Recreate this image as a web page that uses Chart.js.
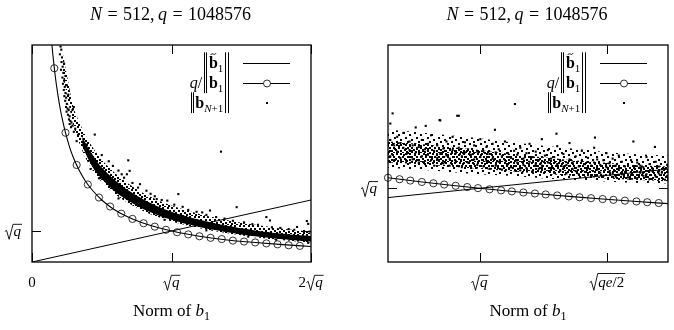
<!DOCTYPE html>
<html>
<head>
<meta charset="utf-8">
<script src="https://cdn.jsdelivr.net/npm/chart.js@4.4.1/dist/chart.umd.min.js"></script>
<style>
  html, body { margin: 0; padding: 0; background: #fff; overflow: hidden; }
  .wrap { display: flex; width: 674px; height: 330px; }
  canvas { display: block; }
</style>
</head>
<body>
<div class="wrap">
  <canvas id="leftChart" width="337" height="330"></canvas>
  <canvas id="rightChart" width="337" height="330"></canvas>
</div>
<script>
// Units: everything is in multiples of sqrt(q)

// ---- left panel ----
const leftIdentX = [0, 2];
const leftIdentY = [0, 2];
const leftCurveX = [0.14, 0.15, 0.16, 0.17, 0.18, 0.20, 0.22, 0.24, 0.27, 0.30, 0.34, 0.38, 0.43, 0.50, 0.58, 0.67, 0.78, 0.90, 1.05, 1.20, 1.40, 1.60, 1.80, 2.00];
const leftCurveY = [7.14, 6.67, 6.25, 5.88, 5.56, 5.00, 4.55, 4.17, 3.70, 3.33, 2.94, 2.63, 2.33, 2.00, 1.72, 1.49, 1.28, 1.11, 0.95, 0.83, 0.71, 0.63, 0.56, 0.50];
const leftMarkX = [0.16, 0.24, 0.32, 0.40, 0.48, 0.56, 0.64, 0.72, 0.80, 0.88, 0.96, 1.04, 1.12, 1.20, 1.28, 1.36, 1.44, 1.52, 1.60, 1.68, 1.76, 1.84, 1.92];
const leftMarkY = [6.25, 4.17, 3.13, 2.50, 2.08, 1.79, 1.56, 1.39, 1.25, 1.14, 1.04, 0.96, 0.89, 0.83, 0.78, 0.74, 0.69, 0.66, 0.63, 0.60, 0.57, 0.54, 0.52];
// ||b_{N+1}|| cloud: solid core and speckled halo around it
const leftCoreX    = [0.36, 0.40, 0.45, 0.50, 0.60, 0.70, 0.80, 0.90, 1.00, 1.10, 1.20, 1.30, 1.40, 1.50, 1.60, 1.70, 1.80, 1.90, 2.00];
const leftCoreLow  = [3.75, 3.35, 2.95, 2.68, 2.25, 1.95, 1.70, 1.51, 1.36, 1.23, 1.13, 1.04, 0.96, 0.89, 0.83, 0.78, 0.73, 0.69, 0.66];
const leftCoreHigh = [4.05, 3.70, 3.35, 3.05, 2.62, 2.28, 2.02, 1.80, 1.62, 1.48, 1.36, 1.26, 1.17, 1.09, 1.02, 0.96, 0.91, 0.87, 0.84];
const leftHaloX    = [0.22, 0.26, 0.30, 0.36, 0.40, 0.45, 0.50, 0.60, 0.70, 0.80, 0.90, 1.00, 1.20, 1.40, 1.60, 1.80, 2.00];
const leftHaloLow  = [6.05, 5.15, 4.35, 3.60, 3.22, 2.85, 2.58, 2.17, 1.88, 1.64, 1.46, 1.31, 1.09, 0.93, 0.80, 0.70, 0.63];
const leftHaloHigh = [6.75, 5.80, 4.95, 4.30, 3.95, 3.60, 3.30, 2.85, 2.50, 2.22, 2.00, 1.82, 1.55, 1.35, 1.20, 1.07, 0.98];
const leftDots = [
  [0.205, 6.95], [0.21, 6.85], [0.20, 6.70], [0.215, 6.60], [0.212, 6.45], [0.22, 6.30], [0.208, 6.20], [0.225, 6.10],
  [0.218, 5.95], [0.23, 5.85], [0.222, 5.75], [0.235, 5.65], [0.228, 5.55], [0.24, 5.45], [0.232, 5.35], [0.245, 5.30],
  [0.238, 5.20], [0.25, 5.10], [0.244, 5.00], [0.255, 4.95], [0.262, 4.90], [0.248, 4.85], [0.258, 4.75], [0.27, 4.70],
  [0.265, 4.60], [0.275, 4.55], [0.283, 4.50], [0.27, 4.45], [0.29, 4.40], [0.28, 4.35], [0.30, 5.00], [0.29, 4.90],
  [0.26, 5.40], [0.24, 6.00], [0.23, 6.40], [0.25, 5.70], [0.30, 4.20], [0.31, 4.30], [0.32, 3.90], [0.33, 4.10],
  [0.45, 4.11], [0.39, 3.79], [0.69, 3.28], [0.70, 2.94], [0.68, 2.83], [0.643, 2.83], [0.774, 2.51], [1.049, 2.19],
  [0.894, 2.03], [0.97, 1.98], [1.467, 1.77], [1.276, 1.66], [1.22, 1.60], [1.68, 1.45], [1.706, 1.34], [1.98, 1.23],
  [1.90, 1.13], [1.355, 3.56], [1.97, 1.32],
  [0.50, 3.45], [0.55, 3.25], [0.58, 3.10], [0.62, 2.95], [0.66, 2.72], [0.72, 2.55], [0.76, 2.40], [0.82, 2.30],
  [0.85, 2.20], [0.88, 2.12], [0.93, 2.00], [1.02, 1.85], [1.08, 1.78], [1.12, 1.68], [1.18, 1.62], [1.25, 1.52],
  [1.32, 1.45], [1.38, 1.40], [1.44, 1.33], [1.52, 1.28], [1.58, 1.22], [1.62, 1.20], [1.72, 1.12], [1.78, 1.10],
  [1.84, 1.06], [1.88, 1.04], [1.95, 1.00], [1.99, 0.98],
  [0.62, 2.05], [0.95, 1.36], [1.25, 1.02], [1.55, 0.82], [1.75, 0.72], [1.98, 0.62], [0.42, 3.00], [0.48, 2.70]
];

// ---- right panel ----
const rightIdentX = [0.881, 1.245];
const rightIdentY = [0.881, 1.245];
const rightCurveX = [0.881, 0.92, 0.96, 1.00, 1.04, 1.08, 1.12, 1.16, 1.20, 1.245];
const rightCurveY = [1.135, 1.087, 1.042, 1.000, 0.962, 0.926, 0.893, 0.862, 0.833, 0.803];
const rightMarkX = [0.881, 0.896, 0.910, 0.925, 0.940, 0.954, 0.969, 0.984, 0.998, 1.013, 1.028, 1.042, 1.057, 1.072, 1.086, 1.101, 1.116, 1.130, 1.145, 1.160, 1.174, 1.189, 1.204, 1.218, 1.233];
const rightMarkY = [1.135, 1.116, 1.099, 1.081, 1.064, 1.048, 1.032, 1.016, 1.002, 0.987, 0.973, 0.960, 0.946, 0.933, 0.921, 0.908, 0.896, 0.885, 0.873, 0.862, 0.852, 0.841, 0.831, 0.821, 0.811];
const rightCoreX    = [0.881, 0.92, 0.96, 1.00, 1.04, 1.08, 1.12, 1.16, 1.20, 1.245];
const rightCoreLow  = [1.33, 1.31, 1.28, 1.25, 1.22, 1.19, 1.16, 1.13, 1.11, 1.09];
const rightCoreHigh = [1.60, 1.57, 1.53, 1.49, 1.44, 1.40, 1.36, 1.33, 1.30, 1.28];
const rightHaloX    = [0.881, 0.92, 0.96, 1.00, 1.04, 1.08, 1.12, 1.16, 1.20, 1.245];
const rightHaloLow  = [1.26, 1.24, 1.21, 1.18, 1.16, 1.13, 1.11, 1.09, 1.07, 1.06];
const rightHaloHigh = [1.75, 1.72, 1.68, 1.64, 1.59, 1.55, 1.51, 1.47, 1.44, 1.42];
const rightDots = [
  [0.884, 1.62], [0.884, 1.41], [0.884, 1.83], [0.889, 1.55], [0.889, 1.36], [0.893, 1.47], [0.893, 1.66], [0.897, 1.39],
  [0.897, 1.58], [0.901, 1.52], [0.901, 1.71], [0.905, 1.44], [0.905, 1.35], [0.909, 1.60], [0.909, 1.49], [0.913, 1.37],
  [0.913, 1.55], [0.917, 1.46], [0.917, 1.78], [0.921, 1.53], [0.921, 1.33], [0.925, 1.41], [0.925, 1.62], [0.929, 1.50],
  [0.929, 1.31], [0.933, 1.57], [0.933, 1.43], [0.937, 1.36], [0.937, 1.68], [0.941, 1.48], [0.941, 1.29], [0.945, 1.55],
  [0.945, 1.39], [0.949, 1.44], [0.949, 1.87], [0.953, 1.32], [0.953, 1.51], [0.957, 1.60], [0.957, 1.42], [0.961, 1.38],
  [0.961, 1.29], [0.965, 1.49], [0.965, 1.66], [0.969, 1.35], [0.969, 1.45], [0.973, 1.52], [0.973, 1.93], [0.977, 1.41],
  [0.977, 1.27], [0.981, 1.46], [0.981, 1.59], [0.985, 1.33], [0.985, 1.50], [0.989, 1.43], [0.989, 1.26], [0.993, 1.55],
  [0.993, 1.37], [0.997, 1.30], [0.997, 1.47], [1.001, 1.40], [1.001, 1.63], [1.005, 1.48], [1.005, 1.28], [1.009, 1.35],
  [1.009, 1.53], [1.013, 1.44], [1.013, 1.25], [1.017, 1.38], [1.017, 1.57], [1.021, 1.29], [1.021, 1.46], [1.025, 1.50],
  [1.025, 1.34], [1.029, 1.41], [1.029, 1.24], [1.033, 1.36], [1.033, 1.60], [1.037, 1.45], [1.037, 1.31], [1.041, 1.27],
  [1.041, 1.39], [1.045, 1.48], [1.046, 2.08], [1.049, 1.33], [1.049, 1.43], [1.053, 1.23], [1.053, 1.52], [1.057, 1.38],
  [1.057, 1.30], [1.061, 1.45], [1.061, 1.26], [1.065, 1.34], [1.065, 1.57], [1.069, 1.22], [1.069, 1.40], [1.073, 1.47],
  [1.073, 1.31], [1.077, 1.36], [1.077, 1.25], [1.081, 1.29], [1.081, 1.63], [1.085, 1.42], [1.085, 1.21], [1.089, 1.33],
  [1.089, 1.49], [1.093, 1.26], [1.093, 1.38], [1.097, 1.40], [1.097, 1.20], [1.101, 1.31], [1.101, 1.54], [1.105, 1.23],
  [1.105, 1.35], [1.109, 1.44], [1.109, 1.28], [1.113, 1.30], [1.113, 1.19], [1.117, 1.37], [1.117, 1.58], [1.121, 1.25],
  [1.121, 1.33], [1.125, 1.41], [1.125, 1.22], [1.129, 1.28], [1.129, 1.18], [1.133, 1.35], [1.133, 1.48], [1.137, 1.21],
  [1.137, 1.31], [1.141, 1.39], [1.141, 1.26], [1.145, 1.29], [1.145, 1.17], [1.149, 1.33], [1.149, 1.52], [1.153, 1.24],
  [1.153, 1.37], [1.157, 1.20], [1.157, 1.30], [1.161, 1.36], [1.161, 1.16], [1.165, 1.27], [1.165, 1.45], [1.169, 1.32],
  [1.169, 1.22], [1.173, 1.19], [1.173, 1.38], [1.177, 1.29], [1.177, 1.15], [1.181, 1.24], [1.181, 1.42], [1.185, 1.34],
  [1.185, 1.18], [1.189, 1.21], [1.189, 1.28], [1.193, 1.30], [1.193, 1.14], [1.197, 1.17], [1.197, 1.36], [1.201, 1.26],
  [1.201, 1.21], [1.205, 1.33], [1.205, 1.13], [1.209, 1.20], [1.209, 1.29], [1.213, 1.27], [1.213, 1.16], [1.217, 1.18],
  [1.217, 1.40], [1.221, 1.31], [1.221, 1.12], [1.225, 1.22], [1.225, 1.25], [1.229, 1.15], [1.229, 1.34], [1.233, 1.28],
  [1.233, 1.19], [1.237, 1.20], [1.228, 1.53], [1.241, 1.25], [1.241, 1.11], [1.244, 1.16], [1.244, 1.30],
  [0.887, 1.96], [0.971, 1.93], [0.948, 1.875], [1.02, 1.75], [1.10, 1.70], [1.15, 1.65], [1.20, 1.60], [0.93, 1.80]
];

// tick labels (pieces of math text)
const SQ = ['', 'sqrt', [['q', 'i']]];
const leftXTicks = [[0, [['0', 'r']]], [1, [SQ]], [2, [['2', 'r'], SQ]]];
const leftYTicks = [[1, [SQ]]];
const rightXTicks = [[1, [SQ]], [1.1658, [['', 'sqrt', [['qe', 'i'], ['/2', 'r']], 0.9]]]];
const rightYTicks = [[1, [SQ]]];

const titleParts = [['N', 'i'], [0.3, 'gap'], ['=', 'r'], [0.3, 'gap'], ['512,', 'r'], [0.2, 'gap'], ['q', 'i'], [0.3, 'gap'], ['=', 'r'], [0.3, 'gap'], ['1048576', 'r']];
const xTitleParts = [['Norm of ', 'r'], ['b', 'i'], ['1', 's']];
const legendRows = [
  [['‖', 'norm'], ['b', 'b', 'tilde'], ['1', 's'], ['‖', 'norm']],
  [['q', 'i'], ['/', 'r'], ['‖', 'norm'], ['b', 'b'], ['1', 's'], ['‖', 'norm']],
  [['‖', 'norm'], ['b', 'b'], ['N', 'si'], ['+1', 's'], ['‖', 'norm']]
];

const SERIF = '"Liberation Serif", "DejaVu Serif", serif';

function zip(xs, ys) {
  return xs.map((x, i) => ({ x: x, y: ys[i] }));
}

// speckle fill that stands in for overlapping dots
function speckle(tile, spots) {
  const c = document.createElement('canvas');
  c.width = tile; c.height = tile;
  const g = c.getContext('2d');
  g.fillStyle = '#000';
  spots.forEach(s => g.fillRect(s[0], s[1], 2, 2));
  return g.createPattern(c, 'repeat');
}
const denseSpeckle = speckle(9, [[0, 0], [5, 0], [2, 3], [7, 3], [4, 5], [0, 6], [6, 7], [2, 8]]);
const lightSpeckle = speckle(11, [[0, 0], [6, 2], [2, 5], [8, 7], [4, 9]]);

function fontFor(f, size) {
  const sub = f === 's' || f === 'si';
  const px = sub ? Math.round(size * 0.7) : size;
  const style = (f === 'i' || f === 'si') ? 'italic ' : (f === 'b' ? 'bold ' : '');
  return style + px + 'px ' + SERIF;
}

function partWidth(ctx, p, size) {
  if (p[1] === 'norm') return size * 0.42;
  if (p[1] === 'gap') return p[0] * size;
  if (p[1] === 'sqrt') return size * 0.62 + mathWidth(ctx, p[2], size) + size * 0.06;
  ctx.font = fontFor(p[1], size);
  return ctx.measureText(p[0]).width;
}

function mathWidth(ctx, parts, size) {
  return parts.reduce((w, p) => w + partWidth(ctx, p, size), 0);
}

function drawParts(ctx, parts, x, y, size) {
  let cx = x;
  parts.forEach(p => {
    const w = partWidth(ctx, p, size);
    if (p[1] === 'norm') {
      ctx.lineWidth = 1;
      const a = Math.round(cx + size * 0.12) + 0.5, b = Math.round(cx + size * 0.27) + 0.5;
      ctx.beginPath();
      ctx.moveTo(a, y - size * 0.98); ctx.lineTo(a, y + size * 0.32);
      ctx.moveTo(b, y - size * 0.98); ctx.lineTo(b, y + size * 0.32);
      ctx.stroke();
    } else if (p[1] === 'sqrt') {
      const top = y - size * (p[3] || 0.78);
      ctx.lineWidth = 0.9;
      ctx.beginPath();
      ctx.moveTo(cx + size * 0.04, y - size * 0.30);
      ctx.lineTo(cx + size * 0.15, y - size * 0.38);
      ctx.lineTo(cx + size * 0.32, y + size * 0.22);
      ctx.lineTo(cx + size * 0.58, top);
      ctx.lineTo(cx + w, top);
      ctx.stroke();
      drawParts(ctx, p[2], cx + size * 0.62, y, size);
    } else if (p[1] !== 'gap') {
      ctx.font = fontFor(p[1], size);
      const sub = p[1] === 's' || p[1] === 'si';
      ctx.fillText(p[0], cx, y + (sub ? size * 0.24 : 0));
      if (p[2] === 'tilde') {
        const t = y - size * 0.9;
        ctx.lineWidth = 0.9;
        ctx.beginPath();
        ctx.moveTo(cx + w * 0.2, t + 1.5);
        ctx.bezierCurveTo(cx + w * 0.4, t - 2, cx + w * 0.6, t + 3, cx + w * 0.8, t - 0.5);
        ctx.stroke();
      }
    }
    cx += w;
  });
}

function drawMath(ctx, parts, x, y, size, align) {
  const w = mathWidth(ctx, parts, size);
  const x0 = align === 'right' ? x - w : (align === 'center' ? x - w / 2 : x);
  drawParts(ctx, parts, x0, y, size);
}

// frame, inward ticks, labels, title and key drawn on top of the plot
function decorPlugin(cfg) {
  return {
    id: 'decor',
    afterDraw(chart) {
      const ctx = chart.ctx;
      const a = chart.chartArea;
      const xs = chart.scales.x, ys = chart.scales.y;
      ctx.save();
      ctx.fillStyle = '#000';
      ctx.strokeStyle = '#000';
      ctx.textBaseline = 'alphabetic';
      ctx.textAlign = 'left';

      ctx.lineWidth = 1;
      ctx.beginPath();
      cfg.xTicks.forEach(t => {
        const px = Math.round(xs.getPixelForValue(t[0])) + 0.5;
        ctx.moveTo(px, a.top); ctx.lineTo(px, a.top + 9);
        ctx.moveTo(px, a.bottom); ctx.lineTo(px, a.bottom - 9);
      });
      cfg.yTicks.forEach(t => {
        const py = Math.round(ys.getPixelForValue(t[0])) + 0.5;
        ctx.moveTo(a.left, py); ctx.lineTo(a.left + 9, py);
        ctx.moveTo(a.right, py); ctx.lineTo(a.right - 9, py);
      });
      ctx.stroke();

      ctx.lineWidth = 1.3;
      ctx.strokeRect(a.left, a.top, a.right - a.left, a.bottom - a.top);

      cfg.xTicks.forEach(t => drawMath(ctx, t[1], xs.getPixelForValue(t[0]), 287, 15, 'center'));
      cfg.yTicks.forEach(t => drawMath(ctx, t[1], a.left - 10, ys.getPixelForValue(t[0]) + 5, 15, 'right'));

      const mid = (a.left + a.right) / 2;
      drawMath(ctx, xTitleParts, mid, 316, 17, 'center');
      drawMath(ctx, titleParts, mid - 1, 20, 18, 'center');

      // key
      const rows = [63, 83, 103];
      rows.forEach((ry, i) => {
        drawMath(ctx, legendRows[i], a.right - 81, ry + 5, 16, 'right');
      });
      ctx.lineWidth = 1;
      ctx.beginPath();
      ctx.moveTo(a.right - 68, rows[0] + 0.5); ctx.lineTo(a.right - 21, rows[0] + 0.5);
      ctx.moveTo(a.right - 68, rows[1] + 0.5); ctx.lineTo(a.right - 21, rows[1] + 0.5);
      ctx.stroke();
      ctx.fillStyle = '#fff';
      ctx.beginPath();
      ctx.arc(a.right - 44, rows[1] + 0.5, 3.5, 0, Math.PI * 2);
      ctx.fill();
      ctx.lineWidth = 0.8;
      ctx.stroke();
      ctx.fillStyle = '#000';
      ctx.fillRect(a.right - 45, rows[2] - 1, 2, 2);
      ctx.restore();
    }
  };
}

function bandPair(xs, low, high, fillStyle) {
  return [
    { data: zip(xs, low), borderWidth: 0, borderColor: 'rgba(0,0,0,0)', pointRadius: 0, fill: false, tension: 0.3 },
    { data: zip(xs, high), borderWidth: 0, borderColor: 'rgba(0,0,0,0)', pointRadius: 0, tension: 0.3,
      fill: '-1', backgroundColor: fillStyle }
  ];
}

function makePanel(id, cfg) {
  const ctx = document.getElementById(id).getContext('2d');
  return new Chart(ctx, {
    type: 'line',
    data: {
      datasets: [
        {
          data: zip(cfg.identX, cfg.identY),
          borderColor: '#000', borderWidth: 1, pointRadius: 0, fill: false
        },
        {
          data: zip(cfg.curveX, cfg.curveY),
          borderColor: '#000', borderWidth: 1.1, pointRadius: 0, fill: false,
          cubicInterpolationMode: 'monotone'
        },
        {
          data: zip(cfg.markX, cfg.markY),
          showLine: false, pointStyle: 'circle', pointRadius: 3.6,
          pointBorderColor: '#000', pointBorderWidth: 0.8, pointBackgroundColor: 'rgba(0,0,0,0)',
          clip: false
        },
        {
          data: cfg.dots.map(d => ({ x: d[0], y: d[1] })),
          showLine: false, pointStyle: 'rect', pointRadius: 1.5,
          pointBorderWidth: 0, pointBackgroundColor: '#000'
        },
        ...bandPair(cfg.coreX, cfg.coreLow, cfg.coreHigh, cfg.coreFill),
        ...bandPair(cfg.haloX, cfg.haloLow, cfg.haloHigh, cfg.haloFill)
      ]
    },
    options: {
      responsive: false,
      animation: false,
      layout: { padding: cfg.padding },
      plugins: { legend: { display: false }, tooltip: { enabled: false } },
      scales: {
        x: { type: 'linear', min: cfg.xMin, max: cfg.xMax, display: false },
        y: { type: 'linear', min: cfg.yMin, max: cfg.yMax, display: false }
      }
    },
    plugins: [decorPlugin(cfg)]
  });
}

makePanel('leftChart', {
  padding: { left: 32, right: 26, top: 45, bottom: 68 },
  xMin: 0, xMax: 2, yMin: 0, yMax: 7,
  identX: leftIdentX, identY: leftIdentY,
  curveX: leftCurveX, curveY: leftCurveY,
  markX: leftMarkX, markY: leftMarkY,
  coreX: leftCoreX, coreLow: leftCoreLow, coreHigh: leftCoreHigh, coreFill: '#000',
  haloX: leftHaloX, haloLow: leftHaloLow, haloHigh: leftHaloHigh, haloFill: denseSpeckle,
  dots: leftDots,
  xTicks: leftXTicks, yTicks: leftYTicks
});

makePanel('rightChart', {
  padding: { left: 51, right: 6, top: 45, bottom: 68 },
  xMin: 0.881, xMax: 1.245, yMin: 0.055, yMax: 2.837,
  identX: rightIdentX, identY: rightIdentY,
  curveX: rightCurveX, curveY: rightCurveY,
  markX: rightMarkX, markY: rightMarkY,
  coreX: rightCoreX, coreLow: rightCoreLow, coreHigh: rightCoreHigh, coreFill: denseSpeckle,
  haloX: rightHaloX, haloLow: rightHaloLow, haloHigh: rightHaloHigh, haloFill: lightSpeckle,
  dots: rightDots,
  xTicks: rightXTicks, yTicks: rightYTicks
});
</script>
</body>
</html>
